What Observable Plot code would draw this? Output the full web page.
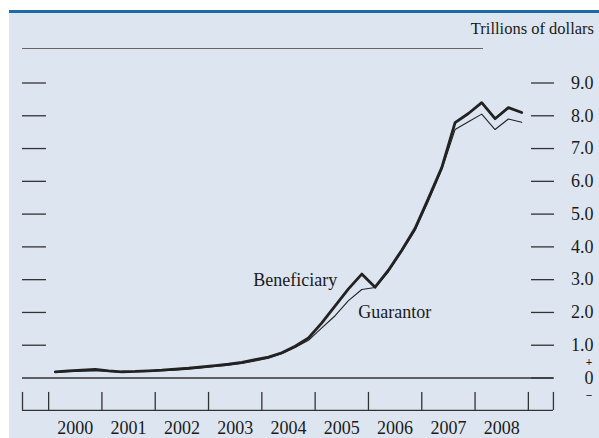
<!DOCTYPE html>
<html><head><meta charset="utf-8">
<script src="https://cdn.jsdelivr.net/npm/d3@7"></script>
<script src="https://cdn.jsdelivr.net/npm/@observablehq/plot@0.6"></script>
<style>
body{margin:0;background:#fff;width:599px;height:438px;overflow:hidden;position:relative;font-family:"Liberation Serif","Times New Roman",serif;color:#1a1a1a;}
#panel{position:absolute;left:9px;top:10px;width:590px;height:428px;background:#dde6f0;border-top:3px solid #1f69a6;box-sizing:border-box;}
#unit{position:absolute;right:5px;top:21px;font-size:16.5px;line-height:16px;color:#1a1a1a;}
#rule{position:absolute;left:22px;top:48px;width:461px;height:0;border-top:1.5px solid #666;}
#chart{position:absolute;left:0;top:0;}
</style></head>
<body>
<div id="panel"></div>
<div id="unit">Trillions of dollars</div>
<div id="rule"></div>
<div id="chart"></div>
<script>
// ---- data ----
const years = [2000, 2001, 2002, 2003, 2004, 2005, 2006, 2007, 2008];
const beneficiary = [0.19, 0.22, 0.24, 0.26, 0.22, 0.19, 0.20, 0.22, 0.24, 0.27, 0.30, 0.34,
  0.38, 0.42, 0.48, 0.56, 0.64, 0.77, 0.97, 1.22, 1.68, 2.20, 2.72, 3.17,
  2.77, 3.29, 3.90, 4.57, 5.48, 6.42, 7.79, 8.07, 8.40, 7.91, 8.25, 8.10];
const guarantor = [0.17, 0.19, 0.21, 0.22, 0.20, 0.18, 0.19, 0.20, 0.22, 0.24, 0.27, 0.31,
  0.35, 0.39, 0.44, 0.52, 0.60, 0.74, 0.93, 1.15, 1.53, 1.90, 2.36, 2.70,
  2.76, 3.24, 3.85, 4.50, 5.40, 6.35, 7.58, 7.82, 8.05, 7.58, 7.90, 7.80];
const yTicks = [0, 1, 2, 3, 4, 5, 6, 7, 8, 9];
const signLabels = [{v: 0.48, t: "+"}, {v: -0.52, t: "\u2212"}];
const seriesLabels = [
  {name: "Beneficiary", x: 2003.84, v: 2.97},
  {name: "Guarantor", x: 2005.81, v: 2.0}
];

// ---- layout constants ----
const xLeft = 1999.51, xFrameRight = 2009.04, xRight = 2009.47;
const leftTickEnd = 1999.96;
const axisTop = -0.44, axisBottom = -0.99;
const FS = 18;
const INK = "#1a1a1a";

const quarters = d3.range(beneficiary.length).map(i => years[0] + 0.125 + 0.25 * i);
const rows = [];
quarters.forEach((q, i) => {
  rows.push({x: q, v: beneficiary[i], s: "Beneficiary"});
  rows.push({x: q, v: guarantor[i], s: "Guarantor"});
});
const bounds = [xLeft, ...years, years[years.length - 1] + 1, xRight];

const chart = Plot.plot({
  width: 599,
  height: 438,
  marginLeft: 22,
  marginRight: 69,
  marginTop: 82.5,
  marginBottom: 60.5,
  style: {background: "transparent", fontFamily: "Liberation Serif, Times New Roman, serif", fontSize: FS + "px", color: INK},
  x: {domain: [xLeft, xFrameRight], axis: null},
  y: {domain: [0, 9], axis: null},
  marks: [
    // left ticks
    Plot.ruleY(yTicks.filter(d => d > 0), {x1: xLeft, x2: leftTickEnd, stroke: "#333", strokeWidth: 1.3}),
    // right ticks + labels
    Plot.axisY(yTicks, {anchor: "right", label: null, tickSize: 23, tickPadding: 40, textAnchor: "end",
      tickFormat: d => d === 0 ? "0" : d.toFixed(1), stroke: "#333", strokeWidth: 1.3, fontSize: FS, fill: INK}),
    Plot.text(signLabels, {x: xRight, y: "v", text: "t", textAnchor: "end", dx: 39, fontSize: 11.5, fontWeight: "bold", fill: INK}),
    // zero line
    Plot.ruleY([0], {x1: xLeft, x2: xRight, stroke: "#333", strokeWidth: 1.3}),
    // bottom axis
    Plot.ruleY([axisBottom], {x1: xLeft, x2: xRight, stroke: "#333", strokeWidth: 1.3}),
    Plot.ruleX(bounds, {y1: axisTop, y2: axisBottom, stroke: "#333", strokeWidth: 1.3}),
    Plot.text(years, {x: d => d + 0.5, frameAnchor: "bottom", lineAnchor: "middle", dy: 50, text: d => String(d), fontSize: FS, fill: INK}),
    // series
    Plot.line(rows.filter(d => d.s === "Guarantor"), {x: "x", y: "v", stroke: "#222", strokeWidth: 1.1}),
    Plot.line(rows.filter(d => d.s === "Beneficiary"), {x: "x", y: "v", stroke: "#222", strokeWidth: 2.8}),
    Plot.text(seriesLabels, {x: "x", y: "v", text: "name", textAnchor: "start", fontSize: FS, fill: INK})
  ]
});
document.getElementById("chart").appendChild(chart);
</script>
</body></html>
